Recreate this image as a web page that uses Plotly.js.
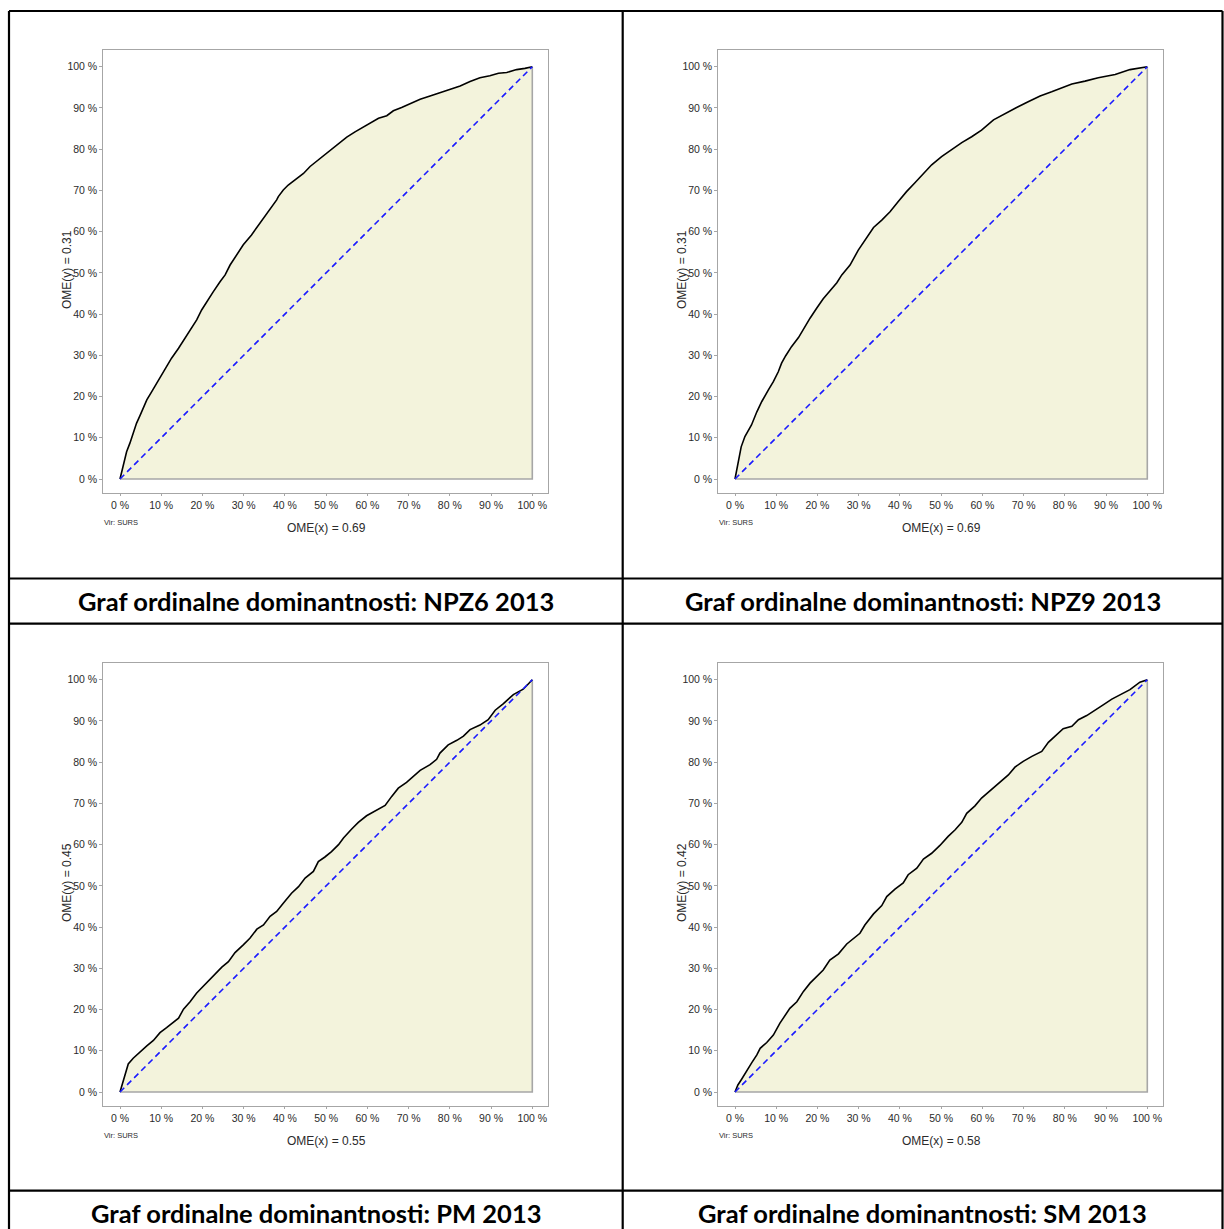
<!DOCTYPE html>
<html>
<head>
<meta charset="utf-8">
<script src="https://cdn.plot.ly/plotly-3.0.1.min.js"></script>
<style>
  html, body { margin: 0; padding: 0; background: #ffffff; }
  #chart { width: 1224px; height: 1229px; }
</style>
</head>
<body>
<div id="chart"></div>
<script>
// Ordinal dominance curves, 2013 (cumulative shares, 0..1)
const npz6X = [0, 0.008, 0.016, 0.024, 0.032, 0.040, 0.049, 0.057, 0.065, 0.077, 0.089, 0.101, 0.113, 0.125, 0.142, 0.158, 0.170, 0.186, 0.198, 0.210, 0.226, 0.243, 0.255, 0.267, 0.283, 0.299, 0.319, 0.332, 0.348, 0.364, 0.380, 0.384, 0.396, 0.408, 0.429, 0.445, 0.461, 0.481, 0.501, 0.517, 0.534, 0.550, 0.570, 0.590, 0.606, 0.627, 0.647, 0.663, 0.683, 0.703, 0.728, 0.752, 0.776, 0.800, 0.825, 0.849, 0.873, 0.897, 0.918, 0.938, 0.962, 0.982, 1];
const npz6Y = [0, 0.034, 0.066, 0.087, 0.111, 0.135, 0.155, 0.175, 0.192, 0.212, 0.232, 0.252, 0.272, 0.293, 0.317, 0.341, 0.361, 0.386, 0.410, 0.430, 0.454, 0.479, 0.495, 0.519, 0.543, 0.568, 0.592, 0.610, 0.632, 0.652, 0.677, 0.685, 0.701, 0.713, 0.729, 0.741, 0.758, 0.774, 0.792, 0.804, 0.817, 0.829, 0.842, 0.853, 0.863, 0.875, 0.881, 0.893, 0.901, 0.910, 0.921, 0.929, 0.937, 0.945, 0.953, 0.964, 0.973, 0.978, 0.984, 0.986, 0.993, 0.996, 1];

const npz9X = [0, 0.015, 0.024, 0.040, 0.053, 0.065, 0.081, 0.093, 0.105, 0.113, 0.123, 0.137, 0.154, 0.166, 0.182, 0.198, 0.214, 0.230, 0.247, 0.259, 0.279, 0.299, 0.315, 0.336, 0.356, 0.376, 0.396, 0.416, 0.437, 0.457, 0.477, 0.501, 0.521, 0.550, 0.574, 0.598, 0.627, 0.655, 0.683, 0.711, 0.740, 0.768, 0.792, 0.817, 0.849, 0.881, 0.922, 0.958, 1];
const npz9Y = [0, 0.078, 0.103, 0.131, 0.163, 0.188, 0.216, 0.236, 0.260, 0.281, 0.299, 0.321, 0.343, 0.364, 0.390, 0.414, 0.437, 0.456, 0.476, 0.495, 0.519, 0.555, 0.580, 0.610, 0.628, 0.648, 0.673, 0.697, 0.719, 0.741, 0.762, 0.782, 0.796, 0.816, 0.830, 0.846, 0.871, 0.887, 0.901, 0.915, 0.929, 0.939, 0.949, 0.958, 0.965, 0.973, 0.981, 0.993, 1];

const pmX = [0, 0.020, 0.032, 0.049, 0.065, 0.081, 0.097, 0.113, 0.129, 0.142, 0.154, 0.170, 0.186, 0.198, 0.214, 0.230, 0.247, 0.263, 0.279, 0.299, 0.315, 0.332, 0.348, 0.364, 0.380, 0.396, 0.416, 0.433, 0.449, 0.469, 0.481, 0.497, 0.513, 0.530, 0.542, 0.562, 0.578, 0.598, 0.623, 0.643, 0.659, 0.675, 0.695, 0.711, 0.728, 0.752, 0.768, 0.776, 0.796, 0.817, 0.833, 0.849, 0.873, 0.893, 0.910, 0.930, 0.954, 0.978, 1];
const pmY = [0, 0.068, 0.082, 0.098, 0.112, 0.125, 0.144, 0.156, 0.168, 0.179, 0.201, 0.219, 0.240, 0.252, 0.268, 0.284, 0.303, 0.316, 0.338, 0.357, 0.373, 0.395, 0.405, 0.426, 0.438, 0.458, 0.482, 0.498, 0.519, 0.535, 0.559, 0.570, 0.583, 0.600, 0.616, 0.638, 0.654, 0.670, 0.685, 0.695, 0.717, 0.737, 0.751, 0.765, 0.780, 0.794, 0.807, 0.822, 0.842, 0.853, 0.863, 0.879, 0.890, 0.903, 0.926, 0.942, 0.964, 0.977, 1];

const smX = [0, 0.007, 0.016, 0.028, 0.040, 0.053, 0.061, 0.077, 0.093, 0.109, 0.121, 0.133, 0.150, 0.166, 0.182, 0.198, 0.214, 0.230, 0.251, 0.271, 0.287, 0.303, 0.315, 0.336, 0.356, 0.368, 0.388, 0.408, 0.420, 0.441, 0.457, 0.477, 0.497, 0.517, 0.534, 0.550, 0.562, 0.582, 0.598, 0.623, 0.647, 0.663, 0.679, 0.699, 0.720, 0.744, 0.760, 0.776, 0.796, 0.817, 0.833, 0.853, 0.873, 0.893, 0.914, 0.938, 0.958, 0.982, 1];
const smY = [0, 0.017, 0.031, 0.049, 0.070, 0.090, 0.106, 0.120, 0.138, 0.167, 0.185, 0.203, 0.219, 0.244, 0.264, 0.280, 0.296, 0.320, 0.335, 0.359, 0.373, 0.385, 0.405, 0.432, 0.452, 0.474, 0.492, 0.507, 0.527, 0.543, 0.565, 0.579, 0.598, 0.620, 0.636, 0.654, 0.676, 0.694, 0.713, 0.735, 0.756, 0.769, 0.788, 0.802, 0.814, 0.826, 0.848, 0.863, 0.881, 0.887, 0.903, 0.913, 0.927, 0.939, 0.953, 0.966, 0.976, 0.994, 1];

const tickVals = [0, 0.1, 0.2, 0.3, 0.4, 0.5, 0.6, 0.7, 0.8, 0.9, 1];
const tickText = ['0 %', '10 %', '20 %', '30 %', '40 %', '50 %', '60 %', '70 %', '80 %', '90 %', '100 %'];

const panelTitles = [
  'Graf ordinalne dominantnosti: NPZ6 2013',
  'Graf ordinalne dominantnosti: NPZ9 2013',
  'Graf ordinalne dominantnosti: PM 2013',
  'Graf ordinalne dominantnosti: SM 2013'
];
const omeX = ['0.69', '0.69', '0.55', '0.58'];
const omeY = ['0.31', '0.31', '0.45', '0.42'];
const sourceNote = 'Vir: SURS';

const curves = [[npz6X, npz6Y], [npz9X, npz9Y], [pmX, pmY], [smX, smY]];

// Page geometry (pixels)
const W = 1224, H = 1229;
const UNIT = 412.3;                 // pixels per 100 %
const originX = [120, 735, 120, 735];  // pixel x of 0 %
const originY = [479, 479, 1092, 1092]; // pixel y of 0 %
const PAD_L = 16.7, PAD_R = 428, PAD_B = 14, PAD_T = 428.7;

const px = v => v / W;
const py = v => 1 - v / H;

const FILL = '#F3F3DC';
const EDGE = '#A6A6A6';
const TEXT = '#2b2b2b';
const SANS = 'Liberation Sans, Arial, sans-serif';

const traces = [];
const layout = {
  width: W, height: H,
  margin: {l: 0, r: 0, t: 0, b: 0},
  paper_bgcolor: '#ffffff',
  plot_bgcolor: 'rgba(0,0,0,0)',
  showlegend: false,
  annotations: [],
  shapes: []
};

curves.forEach(([xs, ys], i) => {
  const n = i === 0 ? '' : String(i + 1);
  const xa = 'x' + n, ya = 'y' + n;

  // shaded area below the curve
  traces.push({
    x: xs.concat([1, 0]), y: ys.concat([0, 0]),
    xaxis: xa, yaxis: ya, type: 'scatter', mode: 'lines',
    fill: 'toself', fillcolor: FILL, line: {width: 0}, hoverinfo: 'skip'
  });
  // grey bottom and right edges of the area
  traces.push({
    x: [0, 1, 1], y: [0, 0, 1],
    xaxis: xa, yaxis: ya, type: 'scatter', mode: 'lines',
    line: {color: EDGE, width: 1.6}, hoverinfo: 'skip'
  });
  // ordinal dominance curve
  traces.push({
    x: xs, y: ys,
    xaxis: xa, yaxis: ya, type: 'scatter', mode: 'lines',
    line: {color: '#000000', width: 1.6}
  });
  // equality diagonal
  traces.push({
    x: [0, 1], y: [0, 1],
    xaxis: xa, yaxis: ya, type: 'scatter', mode: 'lines',
    line: {color: '#1a1aff', width: 1.6, dash: '6px,4px'}
  });

  const ox = originX[i], oy = originY[i];
  const axisCommon = {
    showgrid: false, zeroline: false,
    showline: true, mirror: true, linecolor: EDGE, linewidth: 1,
    ticks: 'outside', tickcolor: EDGE, tickwidth: 1,
    tickvals: tickVals, ticktext: tickText,
    tickfont: {family: SANS, size: 10.5, color: TEXT},
    fixedrange: true
  };
  layout['xaxis' + n] = Object.assign({}, axisCommon, {
    domain: [px(ox - PAD_L), px(ox + PAD_R)],
    range: [-PAD_L / UNIT, PAD_R / UNIT],
    anchor: ya, ticklen: 2
  });
  layout['yaxis' + n] = Object.assign({}, axisCommon, {
    domain: [py(oy + PAD_B), py(oy - PAD_T)],
    range: [-PAD_B / UNIT, PAD_T / UNIT],
    anchor: xa, ticklen: 3
  });

  // axis captions
  layout.annotations.push({
    xref: 'paper', yref: 'paper', x: px(ox - 53), y: py(oy - 209),
    text: 'OME(y) = ' + omeY[i], textangle: -90, showarrow: false,
    xanchor: 'center', yanchor: 'middle',
    font: {family: SANS, size: 12, color: TEXT}
  });
  layout.annotations.push({
    xref: 'paper', yref: 'paper', x: px(ox + 206), y: py(oy + 49),
    text: 'OME(x) = ' + omeX[i], showarrow: false,
    xanchor: 'center', yanchor: 'middle',
    font: {family: SANS, size: 12, color: TEXT}
  });
  layout.annotations.push({
    xref: 'paper', yref: 'paper', x: px(ox - 18), y: py(oy + 43),
    text: sourceNote, showarrow: false,
    xanchor: 'left', yanchor: 'middle',
    font: {family: SANS, size: 7.5, color: TEXT}
  });
});

// Table frame around the four panels
const colX = [9, 622.7, 1222.5];
const rowY = [11, 578.5, 623.7, 1190.7, 1240];
const titleY = [601, 1213];
const line = {color: '#000000', width: 2.2};
const seg = (x0, y0, x1, y1) => ({type: 'line', xref: 'paper', yref: 'paper',
  x0: px(x0), y0: py(y0), x1: px(x1), y1: py(y1), line: line, layer: 'above'});
[0, 1, 2, 3].forEach(r => layout.shapes.push(seg(colX[0], rowY[r], colX[2], rowY[r])));
colX.forEach(x => layout.shapes.push(seg(x, rowY[0], x, rowY[4])));

panelTitles.forEach((t, i) => {
  const c = i % 2, r = Math.floor(i / 2);
  layout.annotations.push({
    xref: 'paper', yref: 'paper',
    x: px((colX[c] + colX[c + 1]) / 2), y: py(titleY[r]),
    text: '<b>' + t + '</b>', showarrow: false,
    xanchor: 'center', yanchor: 'middle',
    font: {family: 'Lato, Noto Sans, sans-serif', size: 25.5, color: '#000000'}
  });
});

Plotly.newPlot('chart', traces, layout, {displayModeBar: false, staticPlot: true});
</script>
</body>
</html>
